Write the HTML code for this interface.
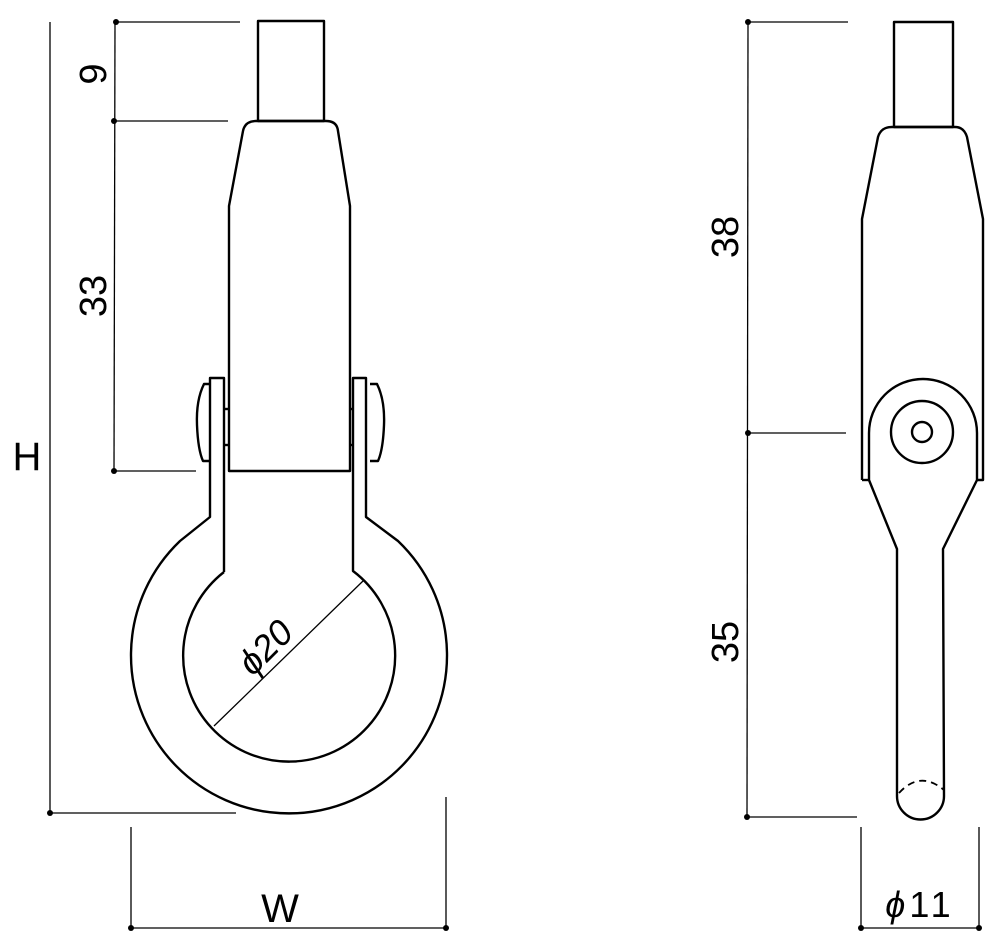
<!DOCTYPE html>
<html><head><style>html,body{margin:0;padding:0;background:#fff}svg{display:block}</style></head>
<body>
<svg width="1000" height="951" viewBox="0 0 1000 951" xmlns="http://www.w3.org/2000/svg" font-family="Liberation Sans, sans-serif">
<g stroke="#000" fill="none" stroke-width="1.3">
<line x1="116" y1="22" x2="240" y2="22"/>
<line x1="114" y1="121" x2="228" y2="121"/>
<line x1="114" y1="471" x2="196" y2="471"/>
<line x1="115" y1="22" x2="114" y2="471"/>
<line x1="50" y1="22" x2="50" y2="813"/>
<line x1="50" y1="813" x2="236" y2="813"/>
<line x1="131" y1="827" x2="131" y2="930"/>
<line x1="446" y1="797" x2="446" y2="930"/>
<line x1="131" y1="928" x2="446" y2="928"/>
<line x1="214" y1="726" x2="363" y2="581"/>
<line x1="748" y1="22" x2="848" y2="22"/>
<line x1="748" y1="433" x2="846" y2="433"/>
<line x1="747" y1="817" x2="857" y2="817"/>
<line x1="748" y1="22" x2="747" y2="817"/>
<line x1="861" y1="827" x2="861" y2="930"/>
<line x1="979" y1="827" x2="979" y2="930"/>
<line x1="861" y1="928" x2="979" y2="928"/>
</g>
<g fill="#000">
<circle cx="116" cy="22" r="3"/><circle cx="114" cy="121" r="3"/><circle cx="114" cy="471" r="3"/>
<circle cx="50" cy="813" r="3"/><circle cx="131" cy="928" r="3"/><circle cx="446" cy="928" r="3"/>
<circle cx="748" cy="22" r="3"/><circle cx="748" cy="433" r="3"/><circle cx="747" cy="817" r="3"/>
<circle cx="861" cy="928" r="3"/><circle cx="979" cy="928" r="3"/>
</g>
<g stroke="#000" fill="none" stroke-width="2.4" stroke-linejoin="round">
<rect x="258" y="21" width="66" height="100"/>
<path d="M229 471 L229 206 L243 131 Q245 121 256 121 L326 121 Q337 121 338 131 L350 206 L350 471 Z"/>
<path d="M224 572 L224 378 L210 378 L210 517 L180 541 A158 158 0 1 0 398 541 L366 517 L366 378 L353 378 L353 571 A106 106 0 1 1 224 572"/>
<path d="M210 384 L204 384 Q196 400 197 425 Q198 450 203 461 L210 461"/>
<path d="M370 384 L377 384 Q385 400 384 425 Q383 450 378 461 L370 461"/>
<line x1="224" y1="409" x2="229" y2="409"/><line x1="224" y1="445" x2="229" y2="445"/>
<line x1="350" y1="409" x2="353" y2="409"/><line x1="350" y1="445" x2="353" y2="445"/>
<rect x="894" y="22" width="59" height="105"/>
<path d="M862 480 L862 219 L878 137 Q881 127 892 127 L955 127 Q964 127 967 137 L983 219 L983 480 L977 480"/>
<line x1="862" y1="480" x2="869" y2="480"/>
<path d="M869 480 L869 433 A53 53 0 0 1 977 433 L977 480 L943 549 L944 796 A23.5 23.5 0 0 1 897 796 L897 549 Z"/>
<circle cx="922" cy="432" r="31"/>
<circle cx="922" cy="432" r="10"/>
</g>
<path d="M899 793 Q920 770 944 790" stroke="#000" fill="none" stroke-width="1.8" stroke-dasharray="7,5"/>
<g fill="#000" font-size="38">
<text transform="translate(106,74) rotate(-90)" text-anchor="middle">9</text>
<text transform="translate(106,296) rotate(-90)" text-anchor="middle">33</text>
<text transform="translate(738,237) rotate(-90)" text-anchor="middle">38</text>
<text transform="translate(738,642) rotate(-90)" text-anchor="middle">35</text>
<text x="27" y="470" text-anchor="middle" font-size="40">H</text>
<text x="280" y="922" text-anchor="middle" font-size="40">W</text>
<text transform="translate(274,656) rotate(-45)" text-anchor="middle" font-size="36" font-style="italic">ϕ20</text>
<text x="920" y="917" text-anchor="middle" font-size="36" letter-spacing="4"><tspan font-style="italic">ϕ</tspan>11</text>
</g>
</svg>
</body></html>
